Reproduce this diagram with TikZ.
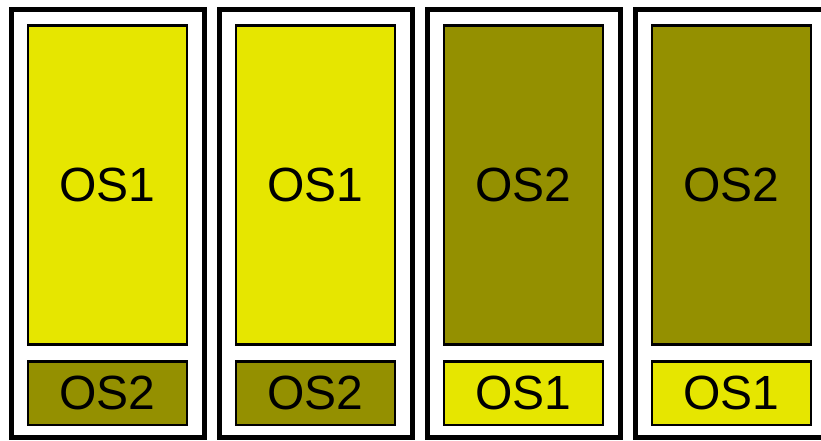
\documentclass[tikz,border=0pt]{standalone}
\usepackage{fontspec}
\setmainfont{Liberation Sans}
\definecolor{osyellow}{RGB}{230,230,0}
\definecolor{osolive}{RGB}{148,144,0}
\begin{document}
\begin{tikzpicture}[x=1pt,y=-1pt,
  outerbox/.style={draw=black,line width=5pt,fill=white,inner sep=0pt,outer sep=0pt,minimum width=193pt,minimum height=428pt},
  bigbox/.style={draw=black,line width=2.5pt,inner sep=0pt,outer sep=0pt,minimum width=159pt,minimum height=319pt,font=\fontsize{48}{58}\selectfont},
  smallbox/.style={draw=black,line width=2.5pt,inner sep=0pt,outer sep=0pt,minimum width=159pt,minimum height=63.5pt,font=\fontsize{48}{58}\selectfont}]
\useasboundingbox (0,0) rectangle (821,440);
\clip (0,0) rectangle (821,440);
\foreach \i/\top/\bot/\ct/\cb in {1/OS1/OS2/osyellow/osolive,2/OS1/OS2/osyellow/osolive,3/OS2/OS1/osolive/osyellow,4/OS2/OS1/osolive/osyellow}{
  \pgfmathsetmacro{\xl}{11.5+208*(\i-1)}
  \node[outerbox,anchor=north west] (outer\i) at (\xl,9.5) {};
  \node[bigbox,fill=\ct,anchor=north west] (big\i) at (\xl+16.5,25.5) {\top};
  \node[smallbox,fill=\cb,anchor=north west] (small\i) at (\xl+16.5,361.5) {\bot};
}
\end{tikzpicture}
\end{document}
